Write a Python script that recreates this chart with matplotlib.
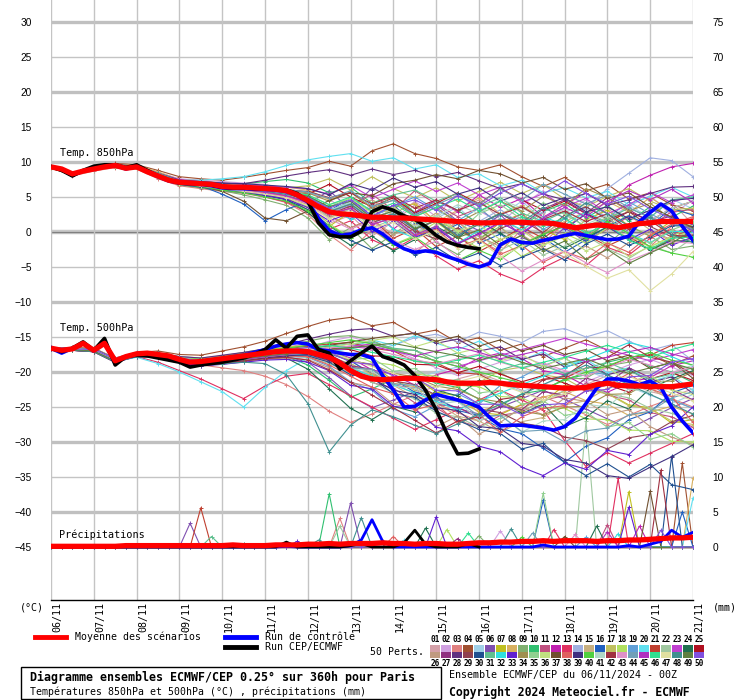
import matplotlib
matplotlib.use("Agg")
import matplotlib.pyplot as plt
from matplotlib.lines import Line2D
from matplotlib.patches import Rectangle
import numpy as np

W, H = 740, 700
MONO = "DejaVu Sans Mono"

# time axes (hours after 06/11 00Z)
hours6 = np.arange(0, 361, 6)
hours12 = np.arange(0, 361, 12)
days = ["06/11", "07/11", "08/11", "09/11", "10/11", "11/11", "12/11", "13/11",
        "14/11", "15/11", "16/11", "17/11", "18/11", "19/11", "20/11", "21/11"]

# ---- main curves, 6-hourly ----
mean850 = [9.3, 9.0, 8.3, 8.7, 9.0, 9.3, 9.5, 9.1, 9.3, 8.6,
           8.0, 7.4, 7.1, 7.0, 6.9, 6.8, 6.5, 6.4, 6.4, 6.3,
           6.2, 6.1, 5.9, 5.3, 4.5, 3.6, 2.9, 2.6, 2.5, 2.3,
           2.1, 2.1, 2.0, 2.0, 1.9, 1.8, 1.7, 1.6, 1.5, 1.4,
           1.3, 1.3, 1.4, 1.4, 1.4, 1.3, 1.3, 1.2, 0.9, 0.6,
           0.8, 1.0, 0.9, 0.6, 0.9, 1.2, 1.3, 1.5, 1.5, 1.5, 1.5]
ctrl850 = [9.3, 8.9, 8.1, 8.7, 9.2, 9.4, 9.5, 9.0, 9.4, 8.6,
           7.9, 7.3, 7.0, 6.9, 6.8, 6.6, 6.3, 6.2, 6.2, 6.1,
           6.1, 6.0, 5.8, 5.2, 4.3, 2.0, 0.2, -0.5, -0.3, 0.3,
           0.6, -0.3, -1.5, -2.4, -2.9, -2.7, -2.9, -3.5, -4.0, -4.6,
           -5.0, -4.5, -1.8, -1.0, -1.5, -1.6, -1.2, -0.9, -0.5, -0.2,
           -0.5, -0.8, -1.1, -1.0, -0.6, 1.5, 2.8, 4.0, 3.0, 0.8, -1.2]
cep850 = [9.3, 8.8, 8.0, 8.8, 9.4, 9.6, 9.6, 9.2, 9.6, 8.8,
          8.0, 7.4, 7.0, 6.9, 6.9, 6.7, 6.4, 6.3, 6.3, 6.2,
          6.2, 6.1, 6.0, 5.5, 4.4, 1.3, -0.4, -0.7, -0.7, 0.1,
          2.9, 3.6, 3.1, 2.3, 1.8, 0.8, -0.5, -1.4, -1.9, -2.2, -2.4]

mean500 = [-16.6, -16.9, -16.7, -15.9, -16.9, -15.9, -18.4, -17.8, -17.4, -17.3,
           -17.5, -17.7, -18.2, -18.6, -18.5, -18.3, -18.1, -17.9, -17.7, -17.5,
           -17.3, -17.1, -17.0, -17.0, -17.1, -17.5, -17.9, -18.7, -19.8, -20.6,
           -21.0, -21.1, -21.0, -20.9, -20.9, -21.0, -21.1, -21.4, -21.6, -21.6,
           -21.6, -21.5, -21.6, -21.8, -21.9, -22.0, -22.1, -22.2, -22.3, -22.3,
           -22.2, -21.8, -21.6, -21.9, -22.0, -22.0, -22.1, -22.1, -22.1, -21.9, -21.7]
ctrl500 = [-16.6, -17.3, -16.6, -15.9, -17.0, -15.8, -18.8, -17.8, -17.5, -17.5,
           -17.8, -18.2, -18.5, -19.0, -18.8, -18.5, -18.2, -17.8, -17.6, -17.2,
           -16.8, -16.3, -16.0, -15.8, -16.0, -16.8, -17.0, -17.3, -17.5, -17.5,
           -18.0, -20.5, -22.6, -25.0, -24.9, -24.0, -23.2, -23.6, -24.0, -24.4,
           -25.0, -26.5, -27.7, -27.6, -27.6, -27.8, -28.0, -28.3, -27.8, -26.6,
           -24.5, -22.3, -21.0, -21.0, -21.3, -21.8, -21.3, -22.2, -25.0, -27.0, -28.7]
cep500 = [-16.6, -17.1, -16.6, -15.7, -16.9, -15.2, -19.0, -17.8, -17.6, -17.7,
          -18.0, -18.3, -18.6, -19.3, -19.0, -18.8, -18.6, -18.3, -18.0, -17.5,
          -16.8, -15.4, -16.6, -14.9, -14.7, -16.8, -17.3, -19.6, -18.4, -17.3,
          -16.3, -17.8, -18.3, -19.0, -20.5, -22.6, -25.4, -28.8, -31.7, -31.6, -31.0]

mean_rr = [0.1, 0.1, 0.1, 0.1, 0.1, 0.1, 0.1, 0.2, 0.2, 0.2,
           0.2, 0.2, 0.2, 0.2, 0.2, 0.2, 0.2, 0.3, 0.2, 0.2,
           0.2, 0.3, 0.3, 0.3, 0.4, 0.4, 0.5, 0.4, 0.5, 0.5,
           0.5, 0.6, 0.5, 0.5, 0.4, 0.5, 0.5, 0.4, 0.4, 0.5,
           0.6, 0.6, 0.7, 0.7, 0.8, 0.8, 0.9, 0.8, 0.9, 0.9,
           0.9, 0.8, 0.9, 0.9, 1.0, 1.0, 1.1, 1.2, 1.3, 1.3, 1.4]
ctrl_rr = [0.0, 0.0, 0.0, 0.0, 0.0, 0.0, 0.0, 0.0, 0.0, 0.0,
           0.0, 0.0, 0.0, 0.0, 0.0, 0.0, 0.0, 0.0, 0.0, 0.0,
           0.0, 0.0, 0.1, 0.0, 0.0, 0.0, 0.0, 0.0, 0.2, 1.0,
           3.9, 0.8, 0.0, 0.0, 0.0, 0.0, 0.0, 0.0, 0.0, 0.0,
           0.0, 0.0, 0.0, 0.0, 0.0, 0.0, 0.3, 0.0, 0.0, 0.0,
           0.0, 0.0, 0.0, 0.0, 0.2, 0.0, 0.4, 0.8, 2.4, 1.4, 2.1]
cep_rr = [0.0, 0.0, 0.0, 0.0, 0.0, 0.0, 0.0, 0.0, 0.0, 0.0,
          0.0, 0.0, 0.0, 0.0, 0.0, 0.0, 0.0, 0.0, 0.0, 0.0,
          0.0, 0.0, 0.7, 0.0, 0.0, 0.0, 0.0, 0.0, 0.2, 0.5,
          0.0, 0.0, 0.0, 0.6, 2.4, 0.4, 0.0, 0.0, 0.0, 0.5, 0.0]

# ---- 50 perturbed members, 12-hourly ----
t850 = [
 [9.2, 8.1, 8.9, 9.4, 9.2, 8.0, 6.8, 6.5, 6.0, 5.8, 5.2, 4.8, 3.9, 1.2, 2.4, -0.6, 1.5, 3.8, 1.0, 2.9, 4.6, 1.8, 0.2, 2.7, -1.0, 1.3, 3.5, 0.6, 2.8, 4.2, 1.1],
 [9.4, 8.4, 9.1, 9.6, 9.4, 8.5, 7.6, 7.4, 7.2, 7.0, 6.8, 6.1, 5.5, 4.8, 2.1, 3.9, 1.6, 4.4, 2.2, 5.6, 3.0, 1.4, 3.8, 5.9, 2.7, 4.6, 1.9, 3.7, 5.2, 2.4, 4.6],
 [9.3, 8.0, 8.7, 9.2, 9.0, 7.6, 6.6, 6.2, 5.8, 5.5, 5.0, 4.2, 2.5, -0.4, -2.6, 0.3, -1.8, -3.0, -0.5, 1.5, -1.2, -2.8, 0.4, -1.6, 1.3, -0.9, 2.2, -0.4, -2.1, 0.8, 2.0],
 [9.1, 8.3, 9.2, 9.8, 9.6, 8.8, 7.9, 7.6, 7.4, 7.8, 8.3, 8.8, 9.2, 10.1, 9.4, 11.6, 12.6, 11.2, 10.5, 9.3, 8.8, 9.6, 7.9, 6.5, 7.8, 5.9, 6.8, 4.7, 5.6, 3.9, 3.0],
 [9.3, 8.2, 9.0, 9.5, 9.2, 8.3, 7.2, 6.9, 6.6, 6.3, 5.9, 5.6, 4.8, 2.9, 4.1, 1.2, 2.6, -0.3, 1.9, 3.6, 0.8, 2.3, 4.4, 1.7, 0.2, 2.8, 1.1, 3.9, 2.0, 4.7, 3.3],
 [9.2, 8.3, 9.1, 9.4, 9.1, 8.1, 7.0, 6.7, 6.2, 5.9, 5.7, 5.1, 4.0, 5.9, 3.2, 6.3, 4.8, 2.4, 3.9, 1.6, 0.2, 2.5, -0.8, -2.0, 0.6, -1.4, 1.8, 0.1, 2.4, -0.5, 1.2],
 [9.4, 8.2, 8.9, 9.3, 9.3, 8.0, 7.1, 6.8, 6.5, 6.2, 5.6, 4.9, 3.2, 0.8, 2.9, 1.1, 3.6, 4.0, 1.5, 0.3, -1.2, 1.4, 2.6, 0.4, -1.1, 1.8, 3.1, 0.9, -0.6, 1.6, 0.8],
 [9.3, 8.4, 9.0, 9.6, 9.5, 8.6, 7.5, 7.3, 7.0, 6.8, 6.5, 6.4, 6.0, 4.6, 5.7, 3.4, 2.6, 4.2, 1.4, 3.1, 4.9, 2.6, 3.8, 1.9, 0.7, 2.5, 4.4, 2.8, 4.9, 3.1, 2.6],
 [9.2, 8.1, 8.8, 9.4, 9.1, 7.9, 6.7, 6.3, 5.9, 5.3, 4.6, 3.8, 2.0, -1.1, 0.6, -2.4, -0.3, 1.8, -1.5, -3.2, -0.9, 0.8, -2.3, -0.5, 1.9, 0.1, -1.8, 0.9, -0.6, -2.5, -2.0],
 [9.3, 8.3, 9.1, 9.5, 9.4, 8.4, 7.4, 7.1, 6.8, 6.9, 7.2, 7.5, 7.0, 5.6, 6.4, 4.1, 5.3, 2.8, 4.4, 3.1, 1.2, 2.7, 0.8, 2.9, 4.1, 2.0, 3.8, 1.5, 3.6, 2.1, 3.7],
 [9.3, 8.2, 9.0, 9.4, 9.3, 8.1, 7.0, 6.7, 6.3, 6.1, 5.8, 5.5, 4.9, 2.7, 3.8, 5.4, 3.1, 5.9, 4.0, 2.2, 3.4, 1.0, 2.6, -0.3, 0.9, -1.2, 0.4, 2.2, 0.8, 2.9, 3.2],
 [9.4, 8.3, 9.1, 9.6, 9.3, 8.2, 7.1, 6.9, 6.6, 6.4, 6.0, 5.7, 5.0, 3.2, 1.9, 3.6, 0.4, 2.8, 4.6, 2.9, 5.3, 3.5, 4.8, 2.1, 3.9, 5.6, 3.8, 6.7, 8.1, 9.3, 9.8],
 [9.2, 8.2, 8.9, 9.4, 9.2, 8.1, 6.9, 6.6, 6.1, 5.7, 5.0, 4.3, 2.8, 0.4, 1.6, -1.1, -2.5, -0.8, -3.4, -5.3, -4.1, -6.0, -7.2, -5.1, -3.6, -4.8, -2.2, -3.3, -0.9, 0.4, -1.2],
 [9.3, 8.2, 9.0, 9.5, 9.3, 8.2, 7.2, 6.9, 6.6, 6.2, 5.8, 5.3, 4.4, 2.6, 3.9, 1.2, 2.8, 0.3, 1.7, -0.8, 1.5, 3.2, 1.1, 2.9, 4.7, 3.3, 6.2, 8.4, 10.6, 10.2, 7.9],
 [9.1, 8.1, 8.8, 9.3, 9.2, 8.2, 7.3, 7.0, 6.7, 6.3, 5.9, 5.4, 4.2, 2.1, 3.5, 4.6, 2.3, 0.9, 2.7, 0.2, -1.3, 0.6, -1.7, -0.2, 1.5, 2.9, 0.8, 2.4, 0.3, -1.4, -1.0],
 [9.3, 8.3, 9.1, 9.5, 9.4, 8.3, 7.3, 6.6, 5.4, 4.0, 1.6, 3.2, 4.4, 3.0, 4.9, 2.2, 3.8, 1.3, -0.4, 1.1, -1.6, -0.3, -2.4, -0.8, -2.9, -1.1, 0.8, 2.3, 0.9, 3.4, 2.4],
 [9.4, 8.2, 9.0, 9.5, 9.3, 8.4, 7.4, 7.2, 6.9, 6.7, 6.5, 6.3, 6.6, 7.6, 6.0, 7.9, 6.2, 4.9, 6.3, 4.4, 5.8, 7.1, 5.5, 6.8, 4.7, 3.6, 5.1, 6.2, 4.4, 3.2, 3.4],
 [9.2, 8.2, 8.9, 9.4, 9.2, 8.0, 6.9, 6.5, 6.1, 5.8, 5.5, 5.0, 3.6, 1.2, -0.9, 0.8, -1.8, -0.5, 1.4, -0.7, -2.3, -1.0, -3.5, -1.9, -0.2, -1.6, 0.6, -0.8, -2.1, -0.6, 0.8],
 [9.3, 8.3, 9.0, 9.5, 9.3, 8.2, 7.0, 6.8, 6.5, 6.2, 5.9, 5.5, 4.7, 3.0, 4.4, 2.1, 3.7, 5.0, 3.2, 1.6, 3.4, 1.0, 2.2, 0.4, 1.9, 3.6, 2.0, 4.3, 2.6, 1.1, 0.6],
 [9.3, 8.2, 9.0, 9.5, 9.4, 8.3, 7.4, 7.4, 7.6, 7.9, 8.6, 9.5, 10.3, 10.8, 11.2, 10.1, 10.6, 9.0, 9.6, 7.8, 8.3, 6.6, 7.4, 5.6, 6.3, 4.9, 5.8, 3.9, 5.1, 6.4, 5.0],
 [9.2, 8.1, 8.9, 9.3, 9.1, 8.0, 6.9, 6.6, 6.2, 5.9, 5.4, 4.9, 4.0, 2.4, 0.6, 1.9, -0.9, 0.5, -2.1, -0.6, -2.8, -1.2, 0.7, -0.9, 1.3, -0.4, -2.0, -0.6, -2.6, -1.0, 0.6],
 [9.3, 8.2, 9.0, 9.5, 9.3, 8.2, 7.1, 6.8, 6.5, 6.2, 6.0, 5.6, 4.6, 2.0, 3.3, 0.6, 1.8, -0.6, 0.9, -1.7, -0.4, -2.6, -1.1, -3.3, -2.0, -0.5, -2.4, -3.8, -1.9, -3.0, -0.8],
 [9.4, 8.3, 9.1, 9.6, 9.4, 8.4, 7.5, 7.2, 7.0, 6.8, 6.6, 6.4, 6.2, 5.4, 6.7, 4.9, 6.1, 7.3, 5.8, 7.0, 5.3, 6.4, 4.2, 5.5, 3.6, 4.8, 2.6, 3.9, 5.7, 4.2, 5.3],
 [9.2, 8.2, 8.9, 9.4, 9.2, 8.1, 7.0, 6.7, 6.4, 6.0, 5.5, 4.6, 2.8, 0.1, -1.9, -0.6, -2.7, -1.1, 0.8, -0.9, 1.6, -0.2, -1.8, -0.4, -2.3, -0.8, 0.7, -1.0, -2.6, -1.2, -1.4],
 [9.3, 8.2, 9.0, 9.5, 9.3, 8.2, 7.1, 6.9, 6.6, 6.4, 6.1, 5.8, 5.4, 6.8, 5.0, 3.6, 4.9, 2.7, 4.1, 5.6, 4.0, 6.2, 4.6, 3.1, 4.4, 2.6, 1.4, 2.9, 1.6, 3.4, 4.4],
 [9.3, 8.3, 9.0, 9.5, 9.3, 8.3, 7.2, 6.9, 6.5, 6.2, 5.9, 5.5, 4.5, 2.4, 0.6, 1.8, -0.4, 1.1, -0.8, 1.4, -0.6, -2.1, -0.4, -2.3, -3.6, -2.0, -3.7, -1.5, 0.2, -1.1, 0.4],
 [9.2, 8.1, 8.9, 9.4, 9.2, 8.1, 7.0, 6.7, 6.3, 6.0, 5.6, 5.2, 4.3, 2.9, 4.0, 1.8, 2.5, 0.4, 1.6, -0.5, 1.2, 2.6, 1.0, 3.3, 4.6, 2.7, 4.9, 3.2, 1.4, 2.3, 0.2],
 [9.4, 8.3, 9.1, 9.5, 9.3, 8.3, 7.3, 7.1, 6.9, 6.9, 7.4, 8.0, 8.5, 8.9, 8.1, 9.0, 8.2, 8.8, 7.9, 8.5, 7.3, 6.2, 6.9, 5.4, 4.6, 5.5, 3.8, 4.6, 5.5, 6.4, 6.5],
 [9.3, 8.2, 9.0, 9.5, 9.3, 8.2, 7.1, 6.8, 6.4, 6.1, 5.7, 5.3, 4.3, 2.5, 3.7, 1.4, 2.2, 0.1, -1.0, 0.6, -1.4, 0.5, 1.7, -0.1, 2.4, 3.6, 1.8, 2.9, 0.8, -0.7, -0.4],
 [9.2, 8.2, 8.9, 9.4, 9.2, 8.0, 6.8, 6.4, 6.0, 5.6, 5.2, 4.6, 3.2, 0.9, -1.2, -2.6, -1.4, -3.3, -2.2, -4.1, -3.0, -4.8, -3.6, -2.4, -4.0, -1.7, -0.3, -1.9, -0.7, 0.9, 0.8],
 [9.3, 8.3, 9.1, 9.5, 9.3, 8.2, 7.1, 6.8, 6.5, 6.3, 6.0, 5.7, 5.0, 3.6, 4.8, 2.9, 5.3, 6.0, 4.4, 5.5, 3.6, 4.9, 2.7, 1.5, 2.9, 0.6, 1.9, 3.4, 2.1, 4.6, 5.0],
 [9.3, 8.2, 9.0, 9.5, 9.3, 8.2, 7.1, 6.8, 6.5, 6.2, 5.8, 5.6, 5.2, 3.5, 1.8, 2.9, 0.4, -0.9, 0.8, -1.6, 0.2, 1.9, 0.3, 2.2, 1.0, 2.9, 1.3, -0.2, -1.5, 0.1, 0.0],
 [9.2, 8.1, 8.9, 9.4, 9.2, 8.1, 7.0, 6.6, 6.2, 5.8, 5.3, 4.7, 3.5, 1.6, 2.7, 0.1, 1.5, -0.8, 0.6, -1.7, -0.2, 1.4, -0.3, 2.0, 0.4, 2.6, 0.8, -1.1, 0.4, -1.9, -0.7],
 [9.4, 8.3, 9.1, 9.6, 9.4, 8.3, 7.2, 6.9, 6.6, 6.4, 6.2, 6.0, 5.6, 4.4, 5.7, 3.4, 4.6, 2.2, 3.5, 1.3, 2.9, 4.4, 3.0, 5.1, 3.8, 6.2, 4.9, 3.0, 4.1, 1.8, 0.4],
 [9.3, 8.2, 9.0, 9.5, 9.3, 8.1, 7.0, 6.7, 6.4, 6.1, 5.7, 5.3, 4.6, 2.8, 4.1, 1.9, 3.0, 0.6, 2.1, -0.1, 2.6, 3.9, 1.8, 4.2, 2.5, 0.8, 2.1, -0.4, -1.6, 0.3, 1.4],
 [9.3, 8.3, 9.0, 9.5, 9.3, 8.3, 7.3, 7.0, 6.7, 6.5, 6.2, 5.9, 5.3, 3.9, 4.8, 2.7, 3.6, 1.4, 2.3, 0.1, 1.0, -1.1, 0.2, -1.9, -0.6, -2.7, -1.4, -3.5, -2.1, -0.8, 0.2],
 [9.2, 8.2, 8.9, 9.4, 9.2, 8.2, 7.1, 6.6, 5.8, 4.4, 2.0, 1.6, 3.0, 4.5, 5.6, 5.2, 6.9, 7.4, 8.2, 7.6, 8.8, 8.3, 7.0, 7.8, 6.1, 6.9, 4.8, 5.6, 3.6, 2.1, 0.6],
 [9.3, 8.2, 9.0, 9.5, 9.3, 8.2, 7.0, 6.7, 6.3, 6.0, 5.6, 5.1, 4.1, 2.6, 3.4, 1.0, 2.1, -0.5, 0.4, -2.2, -1.0, -3.2, -1.9, -4.3, -2.8, -3.9, -1.6, -2.9, -0.4, 1.1, 2.2],
 [9.4, 8.3, 9.1, 9.6, 9.4, 8.4, 7.4, 7.2, 7.0, 6.9, 6.7, 6.5, 6.2, 5.3, 6.9, 6.0, 7.7, 6.4, 7.2, 5.4, 6.3, 4.4, 5.6, 3.8, 4.9, 2.9, 3.6, 1.9, 3.1, 4.5, 4.8],
 [9.2, 8.1, 8.9, 9.3, 9.1, 8.0, 6.9, 6.5, 6.0, 5.6, 5.0, 4.4, 3.0, 0.9, -0.8, 0.6, -1.9, -0.7, -2.8, -4.1, -2.6, -3.9, -1.8, -0.3, 0.8, -0.9, 1.5, -0.2, -2.1, -3.0, -3.6],
 [9.3, 8.2, 9.0, 9.5, 9.3, 8.2, 7.1, 6.8, 6.5, 6.2, 5.9, 5.4, 4.5, 3.1, 4.2, 2.0, 3.1, 0.8, 2.2, 3.9, 2.6, 4.7, 3.4, 2.0, 3.3, 1.1, 2.4, 0.2, 1.6, 3.4, 4.4],
 [9.3, 8.2, 9.0, 9.5, 9.3, 8.3, 7.2, 6.9, 6.6, 6.4, 6.2, 6.0, 5.8, 4.9, 5.6, 4.0, 5.1, 3.4, 4.6, 3.1, 4.2, 2.5, 3.6, 1.8, 3.0, 1.5, 2.6, 0.4, 1.6, -0.4, -0.8],
 [9.2, 8.2, 8.9, 9.4, 9.2, 8.1, 7.0, 6.6, 6.2, 5.9, 5.5, 5.0, 4.0, 1.9, 0.4, 1.6, -1.2, -2.5, -1.3, -3.6, -4.9, -3.4, -5.6, -4.0, -2.7, -4.4, -5.8, -4.1, -2.9, -1.4, -1.6],
 [9.4, 8.3, 9.1, 9.6, 9.4, 8.4, 7.3, 7.0, 6.7, 6.5, 6.3, 6.1, 5.7, 4.8, 5.9, 3.7, 4.5, 2.5, 3.9, 5.2, 4.0, 6.1, 4.6, 6.8, 5.4, 4.0, 5.3, 3.5, 2.0, 1.4, 0.4],
 [9.3, 8.2, 9.0, 9.5, 9.3, 8.2, 7.1, 6.7, 6.4, 6.1, 5.7, 5.2, 4.2, 2.5, 3.4, 1.1, 2.0, -0.4, 0.8, -1.6, -0.3, 1.3, -0.1, 2.0, 3.5, 2.2, 4.4, 5.9, 4.6, 6.1, 4.2],
 [9.3, 8.3, 9.0, 9.5, 9.3, 8.3, 7.2, 7.0, 6.7, 6.4, 6.1, 5.8, 5.3, 3.9, 5.0, 3.0, 4.1, 2.2, 3.5, 4.7, 3.0, 4.4, 2.2, 0.9, 2.0, -0.2, 1.1, -1.2, -2.4, -0.9, -0.7],
 [9.2, 8.1, 8.9, 9.4, 9.2, 8.0, 6.9, 6.6, 6.2, 5.8, 5.4, 4.9, 3.8, 1.9, 2.8, 0.5, 1.4, -1.0, 0.2, -2.4, -1.1, -3.6, -2.0, -1.2, -3.0, -4.9, -6.6, -5.4, -8.4, -6.0, -2.8],
 [9.3, 8.2, 9.0, 9.5, 9.3, 8.2, 7.1, 6.8, 6.4, 6.1, 5.8, 5.4, 4.6, 2.9, 4.0, 1.8, 2.6, 0.4, 1.7, -0.5, 1.1, 2.6, 1.4, 3.5, 2.0, 4.2, 2.6, 0.9, 2.1, -0.4, -1.5],
 [9.4, 8.3, 9.1, 9.6, 9.4, 8.3, 7.2, 6.9, 6.6, 6.4, 6.1, 5.8, 5.1, 3.6, 4.4, 2.0, 3.0, 0.5, 1.6, -0.8, 0.3, -1.9, -0.5, -2.7, -1.3, -3.9, -2.5, -4.5, -3.0, -1.6, 0.3],
 [9.3, 8.2, 9.0, 9.5, 9.3, 8.2, 7.1, 6.8, 6.5, 6.2, 5.9, 5.6, 4.9, 3.4, 4.6, 2.3, 3.8, 4.6, 3.1, 5.2, 3.7, 5.6, 6.9, 5.4, 7.3, 5.5, 4.0, 5.1, 3.3, 1.9, 0.1],
]

t500 = [
 [-16.5, -16.6, -16.8, -18.2, -17.3, -17.4, -18.0, -18.3, -18.0, -17.6, -17.0, -16.4, -16.0, -16.6, -18.4, -20.2, -21.8, -23.0, -22.1, -21.0, -20.2, -21.3, -22.6, -24.0, -23.1, -21.8, -20.5, -21.6, -22.8, -23.5, -22.4],
 [-16.7, -16.8, -17.0, -18.4, -17.6, -17.5, -18.3, -18.8, -18.5, -18.0, -17.6, -17.2, -16.5, -15.6, -15.0, -15.8, -16.9, -18.1, -19.4, -20.5, -19.6, -18.6, -17.8, -18.9, -20.1, -21.4, -20.2, -19.0, -18.2, -19.3, -20.5],
 [-16.6, -16.7, -16.9, -18.3, -17.4, -17.8, -18.6, -19.0, -19.4, -19.8, -20.6, -21.8, -23.5, -25.6, -27.2, -26.0, -24.6, -23.3, -24.5, -25.8, -27.0, -25.9, -24.7, -23.5, -24.8, -26.1, -27.5, -26.2, -24.9, -23.8, -25.0],
 [-16.6, -16.5, -16.6, -18.0, -17.2, -17.0, -17.5, -17.6, -17.0, -16.4, -15.6, -14.5, -13.5, -12.6, -12.2, -13.4, -12.9, -14.6, -14.0, -15.8, -15.1, -16.9, -16.0, -17.8, -16.6, -15.4, -16.9, -18.4, -17.5, -19.0, -17.7],
 [-16.5, -16.8, -16.9, -18.5, -17.5, -17.7, -18.2, -18.5, -18.2, -17.9, -17.4, -17.0, -16.8, -17.6, -19.1, -20.8, -22.0, -21.0, -20.0, -19.3, -20.4, -21.6, -22.8, -21.8, -20.6, -19.8, -20.9, -22.1, -23.3, -24.5, -23.2],
 [-16.7, -16.9, -17.1, -18.6, -17.7, -17.8, -18.6, -19.1, -18.9, -18.5, -18.0, -17.8, -18.6, -20.8, -23.4, -25.1, -24.0, -22.8, -23.9, -25.2, -26.0, -25.0, -23.8, -22.6, -23.9, -25.3, -26.7, -28.1, -26.6, -25.1, -23.8],
 [-16.6, -16.7, -17.0, -18.3, -17.5, -17.4, -17.9, -18.2, -17.8, -17.3, -16.8, -16.5, -16.2, -16.9, -18.3, -19.0, -21.2, -20.8, -22.9, -23.4, -25.8, -26.1, -24.6, -24.3, -21.9, -22.4, -23.0, -24.7, -25.1, -27.3, -26.8],
 [-16.6, -16.8, -16.9, -18.2, -17.4, -17.6, -18.3, -18.7, -18.6, -18.3, -17.9, -17.6, -17.8, -18.5, -19.9, -20.4, -21.6, -22.1, -23.8, -24.2, -25.6, -24.7, -25.3, -23.6, -22.8, -24.1, -24.6, -26.2, -25.7, -24.9, -26.0],
 [-16.5, -16.6, -16.7, -18.1, -17.3, -17.3, -17.8, -18.0, -17.7, -17.2, -16.7, -16.2, -15.6, -15.0, -14.8, -15.5, -16.8, -16.9, -18.6, -18.7, -20.3, -20.1, -21.8, -22.7, -21.0, -20.9, -19.1, -18.6, -17.2, -18.9, -19.6],
 [-16.6, -16.8, -17.0, -18.4, -17.5, -17.6, -18.2, -18.6, -18.3, -18.0, -17.7, -17.8, -19.0, -21.2, -23.6, -22.4, -21.0, -20.3, -21.6, -22.2, -23.9, -24.8, -23.1, -22.6, -21.0, -20.4, -18.6, -17.9, -19.2, -20.0, -21.5],
 [-16.7, -16.9, -17.0, -18.5, -17.6, -17.7, -18.4, -18.9, -18.7, -18.4, -18.1, -17.9, -17.6, -18.4, -19.5, -21.5, -22.3, -24.4, -25.1, -27.0, -27.8, -26.2, -25.7, -24.0, -23.4, -21.6, -23.3, -24.0, -25.8, -26.4, -27.9],
 [-16.6, -16.7, -16.8, -18.2, -17.4, -17.5, -18.1, -18.4, -18.1, -17.7, -17.3, -16.9, -16.5, -17.0, -18.0, -19.7, -20.3, -21.9, -20.4, -19.6, -18.0, -17.3, -18.1, -19.8, -20.4, -22.0, -22.9, -21.5, -20.8, -19.1, -18.4],
 [-16.6, -16.9, -17.1, -18.6, -17.8, -18.6, -19.8, -21.0, -22.4, -23.8, -22.0, -20.6, -20.2, -21.8, -23.4, -25.0, -26.6, -28.2, -26.8, -25.4, -24.0, -22.6, -24.0, -25.4, -29.8, -33.5, -31.5, -33.0, -31.6, -30.2, -28.8],
 [-16.5, -16.6, -16.7, -18.0, -17.2, -17.3, -17.8, -18.1, -17.9, -17.6, -17.2, -16.8, -16.4, -16.0, -15.8, -16.9, -16.2, -15.1, -14.6, -15.7, -14.3, -14.9, -15.8, -14.2, -13.8, -15.0, -14.1, -15.6, -16.9, -16.1, -18.4],
 [-16.7, -16.8, -17.0, -18.4, -17.6, -17.7, -18.4, -18.8, -18.6, -18.3, -18.0, -17.7, -17.5, -18.2, -19.2, -21.0, -21.9, -23.6, -24.4, -26.3, -27.0, -28.6, -27.1, -26.5, -24.7, -24.1, -22.3, -21.7, -22.4, -24.0, -25.2],
 [-16.6, -16.7, -16.9, -18.3, -17.4, -17.5, -18.1, -18.4, -18.1, -17.8, -17.4, -17.0, -16.6, -17.4, -18.4, -20.3, -21.0, -22.9, -23.6, -25.5, -26.2, -28.1, -28.8, -30.9, -32.9, -30.6, -29.4, -26.8, -25.7, -23.0, -21.9],
 [-16.6, -16.8, -17.0, -18.4, -17.5, -17.6, -18.3, -18.7, -18.4, -18.1, -17.8, -17.5, -17.3, -17.9, -18.8, -20.3, -21.0, -22.6, -23.2, -22.0, -21.5, -19.8, -19.3, -20.4, -20.9, -22.6, -23.1, -24.8, -25.3, -27.0, -27.5],
 [-16.5, -16.7, -16.8, -18.2, -17.3, -17.5, -18.0, -18.2, -17.9, -17.5, -17.0, -16.6, -16.2, -16.8, -17.4, -18.6, -19.0, -20.3, -20.6, -21.9, -22.1, -23.5, -23.7, -25.1, -25.2, -26.7, -26.8, -28.3, -28.4, -29.9, -30.0],
 [-16.7, -16.9, -17.1, -18.5, -17.7, -17.8, -18.5, -18.9, -18.8, -18.4, -18.0, -17.8, -17.9, -19.2, -21.4, -22.6, -25.3, -26.4, -24.8, -23.1, -24.6, -21.9, -20.7, -19.1, -18.0, -19.9, -20.4, -22.5, -21.6, -24.0, -25.2],
 [-16.6, -16.8, -17.0, -18.5, -17.9, -18.8, -20.0, -21.4, -22.8, -25.0, -22.2, -19.8, -18.0, -17.2, -16.6, -15.4, -16.2, -14.8, -15.9, -16.8, -15.6, -17.4, -18.3, -17.1, -19.0, -18.2, -20.1, -19.4, -21.4, -20.5, -22.6],
 [-16.6, -16.7, -16.8, -18.2, -17.4, -17.4, -18.0, -18.3, -18.0, -17.6, -17.1, -16.7, -16.3, -16.0, -15.8, -16.6, -17.0, -18.5, -18.7, -20.1, -20.3, -21.9, -22.2, -21.0, -20.9, -19.4, -19.3, -17.9, -17.6, -16.2, -15.8],
 [-16.7, -16.8, -17.0, -18.4, -17.6, -17.7, -18.4, -18.8, -18.5, -18.2, -17.9, -17.7, -17.9, -18.8, -20.1, -21.4, -23.0, -23.8, -25.9, -26.4, -27.9, -26.6, -25.5, -24.3, -22.6, -21.8, -23.1, -23.7, -25.2, -25.9, -27.0],
 [-16.6, -16.8, -16.9, -18.3, -17.5, -17.6, -18.2, -18.6, -18.3, -17.9, -17.5, -17.2, -16.9, -16.6, -16.3, -16.0, -16.8, -17.6, -18.4, -19.2, -18.4, -17.6, -16.8, -16.0, -15.2, -16.0, -16.8, -17.6, -18.4, -17.6, -16.8],
 [-16.5, -16.7, -16.8, -18.2, -17.4, -17.5, -18.1, -18.5, -18.3, -18.0, -17.8, -18.0, -19.6, -22.4, -25.2, -26.8, -24.9, -25.7, -22.6, -23.4, -21.2, -24.1, -25.9, -24.6, -27.8, -26.5, -24.1, -25.3, -22.3, -21.0, -19.8],
 [-16.6, -16.7, -16.9, -18.3, -17.5, -17.6, -18.2, -18.6, -18.4, -18.1, -17.7, -17.4, -17.0, -16.6, -16.8, -17.7, -17.8, -18.9, -19.0, -20.1, -19.2, -20.3, -21.4, -20.5, -21.6, -22.7, -21.8, -22.9, -21.0, -20.1, -21.2],
 [-16.7, -16.9, -17.1, -18.6, -17.7, -17.8, -18.5, -19.0, -18.8, -18.5, -18.2, -18.0, -18.2, -19.4, -21.5, -22.1, -24.6, -25.2, -27.8, -26.3, -28.9, -27.2, -25.0, -26.1, -23.7, -24.2, -26.1, -25.4, -27.8, -29.3, -30.4],
 [-16.6, -16.8, -16.9, -18.3, -17.5, -17.5, -18.2, -18.5, -18.2, -17.8, -17.4, -17.0, -16.7, -17.5, -19.1, -19.6, -21.9, -22.3, -24.6, -25.0, -26.6, -24.9, -25.4, -22.8, -23.3, -20.9, -21.6, -19.4, -20.8, -22.5, -24.0],
 [-16.5, -16.6, -16.7, -18.1, -17.3, -17.3, -17.8, -18.0, -17.6, -17.2, -16.7, -16.1, -15.3, -14.6, -14.0, -13.8, -14.9, -14.4, -15.9, -15.3, -17.0, -16.4, -18.2, -17.4, -19.3, -18.5, -20.4, -19.6, -21.5, -20.7, -23.1],
 [-16.7, -16.9, -17.0, -18.5, -17.6, -17.7, -18.4, -18.8, -18.6, -18.3, -17.9, -17.6, -17.4, -18.0, -19.3, -19.8, -21.3, -21.8, -23.3, -23.8, -25.3, -25.8, -27.3, -27.8, -29.3, -29.8, -31.0, -29.4, -28.9, -27.1, -26.2],
 [-16.6, -16.8, -17.0, -18.4, -17.6, -17.7, -18.3, -18.7, -18.5, -18.2, -17.8, -17.6, -17.7, -18.6, -20.4, -20.8, -23.1, -23.6, -25.6, -26.9, -28.2, -28.8, -31.0, -30.2, -32.9, -34.8, -33.1, -35.0, -33.2, -36.1, -36.8],
 [-16.6, -16.7, -16.9, -18.3, -17.4, -17.5, -18.1, -18.4, -18.1, -17.7, -17.3, -16.9, -16.6, -16.3, -16.0, -15.7, -16.6, -16.9, -18.0, -17.3, -18.4, -19.7, -18.8, -19.1, -20.2, -19.5, -18.6, -19.9, -21.0, -20.3, -19.4],
 [-16.5, -16.7, -16.8, -18.2, -17.4, -17.6, -18.2, -18.6, -18.4, -18.1, -17.8, -17.6, -17.5, -18.2, -19.4, -20.6, -21.8, -23.0, -24.2, -25.4, -24.2, -23.0, -21.8, -20.6, -19.4, -18.2, -17.0, -15.8, -16.5, -17.8, -19.1],
 [-16.7, -16.9, -17.1, -18.6, -17.8, -17.9, -18.6, -19.1, -18.9, -18.6, -18.3, -18.2, -18.6, -19.8, -21.9, -22.4, -24.9, -25.3, -27.9, -28.4, -30.6, -31.4, -33.6, -34.8, -33.0, -33.9, -31.2, -31.8, -28.9, -27.7, -25.0],
 [-16.6, -16.8, -16.9, -18.3, -17.5, -17.5, -18.1, -18.5, -18.2, -17.8, -17.4, -17.1, -16.8, -17.3, -18.4, -18.9, -20.2, -20.7, -22.0, -22.5, -23.8, -24.3, -25.6, -26.1, -25.0, -24.9, -23.2, -23.1, -21.4, -21.3, -20.0],
 [-16.6, -16.7, -16.8, -18.2, -17.4, -17.4, -18.0, -18.3, -18.0, -17.6, -17.2, -16.8, -16.5, -16.9, -18.2, -18.0, -19.9, -19.5, -21.4, -21.1, -23.0, -22.6, -24.6, -24.1, -26.2, -25.7, -27.9, -27.2, -29.6, -28.8, -30.7],
 [-16.7, -16.8, -17.0, -18.4, -17.6, -17.7, -18.4, -18.8, -18.6, -18.3, -17.9, -17.5, -17.0, -16.5, -16.0, -15.5, -15.0, -16.4, -15.5, -17.3, -16.6, -18.4, -17.5, -19.2, -18.0, -20.1, -19.3, -21.5, -20.4, -22.6, -23.2],
 [-16.6, -16.8, -17.0, -18.4, -17.5, -17.6, -18.2, -18.6, -18.3, -17.9, -17.5, -17.1, -16.7, -16.2, -15.7, -15.2, -14.8, -14.5, -15.6, -14.9, -16.3, -15.4, -17.0, -16.2, -17.5, -16.8, -18.4, -17.6, -19.5, -18.6, -20.9],
 [-16.5, -16.7, -16.9, -18.3, -17.5, -17.6, -18.3, -18.7, -18.5, -18.2, -17.9, -17.7, -17.8, -19.0, -20.6, -22.2, -23.1, -25.4, -24.6, -27.3, -26.1, -28.6, -26.4, -25.2, -24.8, -22.6, -21.9, -20.2, -22.4, -23.5, -27.2],
 [-16.7, -16.9, -17.0, -18.5, -17.7, -17.8, -18.5, -18.9, -18.7, -18.4, -18.0, -17.7, -17.5, -18.3, -19.6, -20.9, -22.6, -23.2, -25.1, -25.5, -27.8, -28.1, -30.2, -30.6, -32.5, -33.0, -34.8, -35.2, -33.6, -32.1, -30.4],
 [-16.6, -16.7, -16.8, -18.2, -17.3, -17.4, -18.0, -18.2, -17.9, -17.5, -17.0, -16.6, -16.2, -15.8, -15.4, -16.0, -16.8, -17.6, -18.4, -19.2, -20.0, -20.8, -21.6, -22.4, -21.2, -20.0, -19.1, -18.0, -17.2, -18.3, -19.0],
 [-16.6, -16.8, -16.9, -18.3, -17.5, -17.6, -18.2, -18.6, -18.3, -18.0, -17.6, -17.3, -17.1, -17.8, -19.5, -19.8, -22.0, -22.3, -24.6, -24.2, -26.9, -26.1, -28.6, -27.0, -26.8, -24.6, -25.0, -22.4, -22.9, -20.1, -19.0],
 [-16.7, -16.9, -17.1, -18.6, -17.7, -17.8, -18.5, -19.0, -18.8, -18.4, -18.1, -17.9, -18.3, -19.7, -21.5, -23.3, -25.1, -26.9, -28.7, -27.0, -26.4, -23.9, -23.5, -21.1, -20.6, -18.5, -17.9, -16.1, -17.9, -18.6, -20.3],
 [-16.6, -16.7, -16.8, -18.2, -17.4, -17.5, -18.1, -18.5, -18.2, -17.9, -17.5, -17.2, -16.9, -16.6, -16.3, -16.8, -17.5, -18.2, -18.9, -18.1, -17.4, -18.6, -19.5, -18.7, -19.8, -20.6, -19.4, -18.2, -19.0, -20.1, -19.3],
 [-16.5, -16.7, -16.9, -18.3, -17.5, -17.6, -18.3, -18.7, -18.5, -18.2, -17.8, -17.5, -17.3, -17.9, -19.4, -19.6, -21.7, -21.9, -24.0, -24.1, -26.3, -26.2, -28.5, -28.3, -30.0, -28.4, -28.0, -26.1, -25.6, -23.7, -22.8],
 [-16.7, -16.8, -17.0, -18.4, -17.6, -17.7, -18.4, -18.8, -18.5, -18.2, -17.8, -17.5, -17.2, -16.9, -16.6, -16.3, -17.0, -17.7, -17.0, -16.4, -17.2, -18.1, -17.5, -16.8, -17.7, -18.5, -17.9, -17.1, -16.5, -17.4, -18.2],
 [-16.6, -16.8, -16.9, -18.3, -17.4, -17.5, -18.1, -18.5, -18.2, -17.8, -17.4, -17.0, -16.6, -16.2, -16.6, -17.2, -17.8, -18.4, -19.0, -18.3, -17.6, -18.5, -19.4, -18.6, -17.9, -17.0, -16.2, -17.1, -17.9, -16.8, -16.0],
 [-16.6, -16.7, -16.9, -18.3, -17.4, -17.4, -18.0, -18.3, -18.0, -17.6, -17.2, -16.9, -16.6, -17.2, -18.2, -19.2, -20.2, -21.2, -22.2, -21.4, -20.6, -21.8, -22.9, -24.0, -23.1, -22.2, -21.4, -20.6, -21.9, -23.0, -24.1],
 [-16.7, -16.9, -17.1, -18.6, -17.8, -17.9, -18.6, -19.0, -18.8, -18.6, -18.8, -20.4, -24.5, -31.4, -27.6, -25.4, -26.4, -27.6, -28.8, -27.4, -26.0, -24.6, -23.2, -21.8, -20.4, -19.0, -20.4, -21.8, -23.2, -24.6, -26.0],
 [-16.6, -16.8, -17.0, -18.4, -17.5, -17.6, -18.3, -18.7, -18.4, -18.1, -17.7, -17.4, -17.1, -16.8, -16.5, -16.2, -15.9, -16.5, -17.1, -17.7, -18.3, -17.5, -18.6, -19.5, -18.8, -18.1, -19.3, -20.2, -19.4, -18.7, -19.6],
 [-16.5, -16.7, -16.8, -18.2, -17.3, -17.4, -18.0, -18.4, -18.1, -17.8, -17.3, -16.9, -16.5, -17.1, -18.6, -18.9, -20.6, -20.8, -22.6, -22.7, -24.6, -24.6, -26.1, -24.7, -24.5, -22.7, -22.5, -20.7, -20.5, -18.6, -18.1],
]

# precipitation spikes of the members (mm per 6 h); everything else is 0
rr_member = [6, 21, 31, 24, 33, 48, 10, 22, 3, 6, 48, 38, 20, 24, 33, 18, 46, 2, 48, 16,
             35, 13, 22, 37, 24, 13, 7, 33, 37, 42, 30, 4, 16, 8, 20, 12, 45, 43,
             27, 9, 40, 44, 11, 32, 50, 19, 1, 26]
rr_hour = [78, 84, 90, 108, 138, 150, 156, 162, 162, 168, 174, 192, 198, 210, 216, 222, 234, 252, 258, 276,
           276, 282, 300, 288, 306, 318, 324, 324, 336, 342, 348, 354, 354, 360, 360, 330, 312, 294,
           228, 240, 264, 270, 312, 318, 342, 300, 186, 144]
rr_mm = [3.4, 5.6, 1.5, 0.5, 0.8, 1.0, 7.6, 3.0, 4.1, 6.3, 4.2, 1.5, 1.0, 2.7, 4.3, 2.5, 2.0, 2.3, 2.6, 6.7,
         7.7, 2.5, 18.0, 1.5, 3.0, 9.8, 7.9, 5.7, 8.0, 11.0, 13.0, 12.0, 5.0, 9.8, 7.0, 3.0, 2.2, 1.8,
         1.2, 1.6, 1.4, 2.0, 3.2, 1.9, 2.4, 1.4, 0.9, 0.6]

member_colors = ['#d4a0a8', '#d0a0e0', '#e08080', '#a05030', '#a0d0e8', '#8050b0', '#c0c020', '#d8b060', '#80b070', '#30c070',
                 '#c05080', '#c020b0', '#e03060', '#a0b0e0', '#c8b080', '#2060c0', '#c0c060', '#b0e060', '#60a0d8', '#60e0f0',
                 '#c04030', '#a0c8a0', '#c040d0', '#207050', '#b01020',
                 '#c09a80', '#903080', '#603080', '#904050', '#205090', '#60c090', '#30e0e0', '#6020d0', '#a09050', '#90d090',
                 '#c0e080', '#705030', '#e06060', '#403080', '#50d040', '#b0d8c8', '#a03040', '#e090c8', '#70a0b8', '#b030c0',
                 '#30e090', '#e0e0a0', '#409090', '#608040', '#8050e0']

RR0 = -45  # precipitation zero sits on -45 of the temperature scale


def px(x, y):
    return x / W, 1 - y / H


fig = plt.figure(figsize=(7.4, 7.0), dpi=100)
ax = fig.add_axes([51 / W, 100 / H, 642 / W, 600 / H])
ax.set_xlim(0, 360)
ax.set_ylim(-52.57, 33.14)

# grid
for v in range(-45, 31, 5):
    if v == 0:
        ax.axhline(v, color='#c8c8c8', lw=3.2, zorder=1)
        ax.axhline(v, color='#808080', lw=0.9, zorder=1)
    elif v % 10 == 0:
        ax.axhline(v, color='#c0c0c0', lw=2.4, zorder=1)
    else:
        ax.axhline(v, color='#c4c4c4', lw=1.0, zorder=1)
for d in range(len(days)):
    ax.axvline(d * 24, color='#c4c4c4', lw=1.0, zorder=1)

# ensemble members
for i, col in enumerate(member_colors):
    kw = dict(color=col, lw=0.8, marker='+', ms=3, mew=0.7, zorder=2)
    ax.plot(hours12, t850[i], **kw)
    ax.plot(hours12, t500[i], **kw)
    rr = np.zeros(len(hours6))
    for m, h, mm in zip(rr_member, rr_hour, rr_mm):
        if m == i + 1:
            rr[h // 6] = mm
    ax.plot(hours6, RR0 + rr, **kw)

# control, deterministic run, mean
for series in (ctrl850, ctrl500):
    ax.plot(hours6, series, color='#0000ff', lw=2.6, zorder=4)
ax.plot(hours6, RR0 + np.array(ctrl_rr), color='#0000ff', lw=2.0, zorder=4)
for series in (cep850, cep500):
    ax.plot(hours6[:len(series)], series, color='black', lw=2.6, zorder=5)
ax.plot(hours6[:len(cep_rr)], RR0 + np.array(cep_rr), color='black', lw=2.0, zorder=5)
for series in (mean850, mean500):
    ax.plot(hours6, series, color='#ff0000', lw=3.8, zorder=6, solid_capstyle='butt')
ax.plot(hours6, RR0 + np.array(mean_rr), color='#ff0000', lw=3.8, zorder=6)

# axes cosmetics
for s in ('top', 'left', 'right'):
    ax.spines[s].set_visible(False)
ax.spines['bottom'].set_color('black')
ax.spines['bottom'].set_linewidth(1.0)
ax.set_xticks([])
ax.set_yticks(range(-45, 31, 5))
ax.tick_params(axis='y', length=0, pad=14, labelsize=7.3)
for t in ax.get_yticklabels():
    t.set_fontfamily('Liberation Sans')

ax2 = ax.twinx()
lo, hi = ax.get_ylim()
ax2.set_ylim(lo - RR0, hi - RR0)
ax2.set_yticks(range(0, 76, 5))
ax2.tick_params(axis='y', length=0, pad=14, labelsize=7.3)
for t in ax2.get_yticklabels():
    t.set_fontfamily('Liberation Sans')
for s in ax2.spines.values():
    s.set_visible(False)

# date labels under the plot
for d, lab in enumerate(days):
    x = 51 + d * 642 / 15 + 1.5
    fig.text(*px(x, 602), lab, rotation=90, ha='left', va='top',
             fontsize=7.2, family=MONO)

fig.text(*px(20, 607), "(°C)", fontsize=7.2, family=MONO, va='center', ha='left')
fig.text(*px(713, 607), "(mm)", fontsize=7.2, family=MONO, va='center', ha='left')

# block titles
fig.text(*px(60, 153), "Temp. 850hPa", fontsize=7.3, family=MONO, va='center')
fig.text(*px(60, 328), "Temp. 500hPa", fontsize=7.3, family=MONO, va='center')
fig.text(*px(59, 535), "Précipitations", fontsize=7.3, family=MONO, va='center')

# legend
fig.add_artist(Line2D([35 / W, 66 / W], [px(0, 637)[1]] * 2, color='#ff0000', lw=3.5))
fig.add_artist(Line2D([225 / W, 256 / W], [px(0, 637)[1]] * 2, color='#0000ff', lw=3.5))
fig.add_artist(Line2D([225 / W, 256 / W], [px(0, 647)[1]] * 2, color='black', lw=3.5))
fig.text(*px(75, 637), "Moyenne des scénarios", fontsize=7.1, family=MONO, va='center')
fig.text(*px(265, 637), "Run de contrôle", fontsize=7.1, family=MONO, va='center')
fig.text(*px(265, 647), "Run CEP/ECMWF", fontsize=7.1, family=MONO, va='center')
fig.text(*px(370, 652), "50 Perts.", fontsize=7.1, family=MONO, va='center')

# member colour key
for i, col in enumerate(member_colors):
    c = i % 25
    row = i // 25
    x0 = 430 + c * 11.0
    y0 = 645 + row * 6.5
    fig.add_artist(Rectangle(px(x0, y0 + 6.5), 9.8 / W, 6.5 / H, transform=fig.transFigure,
                             facecolor=col, edgecolor='none'))
    ty = 639 if row == 0 else 664
    fig.text(*px(x0 + 4.9, ty), f"{i + 1:02d}", fontsize=5.6, family=MONO,
             ha='center', va='center', fontweight='bold')

# title box
fig.add_artist(Rectangle(px(21, 699), 420 / W, 32 / H, transform=fig.transFigure,
                         facecolor='none', edgecolor='black', lw=1.0))
fig.text(*px(30, 677), "Diagramme ensembles ECMWF/CEP 0.25° sur 360h pour Paris",
         fontsize=8.4, family=MONO, fontweight='bold', va='center')
fig.text(*px(30, 692), "Températures 850hPa et 500hPa (°C) , précipitations (mm)",
         fontsize=7.1, family=MONO, va='center')
fig.text(*px(449, 675), "Ensemble ECMWF/CEP du 06/11/2024 - 00Z",
         fontsize=7.2, family=MONO, va='center')
fig.text(*px(449, 692), "Copyright 2024 Meteociel.fr - ECMWF",
         fontsize=8.3, family=MONO, fontweight='bold', va='center')

fig.savefig("out.png", dpi=100, facecolor='white')
